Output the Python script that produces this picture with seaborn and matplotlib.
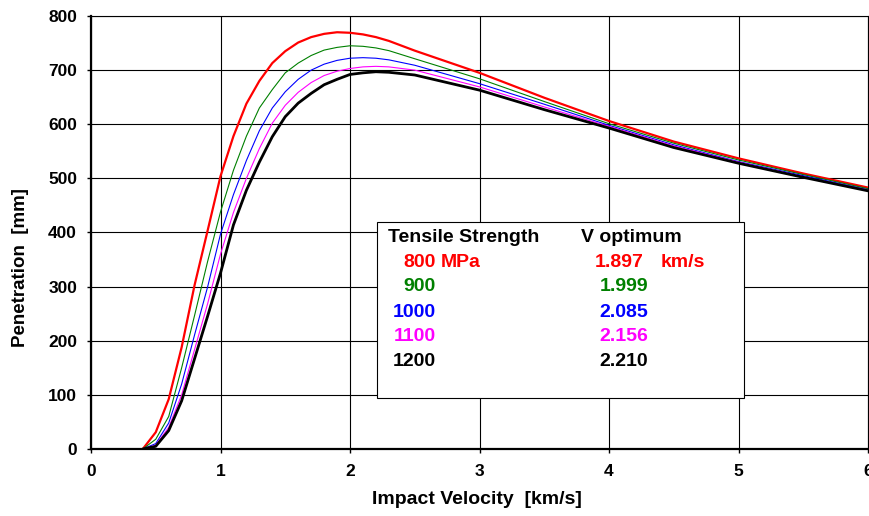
import matplotlib
matplotlib.use("Agg")
import pandas as pd
import seaborn as sns
import matplotlib.pyplot as plt
from matplotlib.patches import Rectangle

# impact velocity [km/s], shared by all curves
velocity = [0.4, 0.5, 0.6, 0.7, 0.8, 0.9, 1.0, 1.1, 1.2, 1.3, 1.4, 1.5, 1.6, 1.7,
            1.8, 1.9, 2.0, 2.1, 2.2, 2.3, 2.5, 3.0, 3.5, 4.0, 4.5, 5.0, 5.5, 6.0]

# penetration [mm] for each tensile strength
pen_800 = [0, 31, 92, 188, 303, 403, 504, 578, 638, 680, 713, 735, 751, 761,
           767, 770, 769, 766, 761, 754, 736, 695, 649, 606, 568, 537, 509, 483]
pen_900 = [0, 18, 60, 150, 247, 346, 438, 515, 578, 630, 664, 695, 713, 727,
           737, 742, 745, 744, 741, 736, 721, 684, 642, 601, 565, 534, 507, 481]
pen_1000 = [0, 10, 48, 120, 211, 299, 397, 470, 533, 588, 630, 660, 683, 700,
            711, 718, 722, 723, 722, 719, 709, 675, 637, 598, 562, 531, 505, 479]
pen_1100 = [0, 7, 40, 100, 184, 268, 360, 437, 500, 555, 602, 635, 659, 677,
            690, 698, 703, 706, 707, 706, 700, 669, 632, 596, 560, 530, 503, 478]
pen_1200 = [0, 5, 34, 89, 167, 245, 325, 414, 478, 530, 577, 614, 639, 657,
            673, 683, 692, 695, 697, 696, 691, 663, 627, 593, 557, 528, 502, 477]

strengths = [800, 900, 1000, 1100, 1200]
v_optimum = [1.897, 1.999, 2.085, 2.156, 2.210]
colors = ["#ff0000", "#008000", "#0000ff", "#ff00ff", "#000000"]
widths = [1.6, 0.8, 0.8, 0.8, 2.0]

curves = [pen_800, pen_900, pen_1000, pen_1100, pen_1200]
df = pd.concat(
    [pd.DataFrame({"velocity": velocity, "penetration": p, "strength": s})
     for p, s in zip(curves, strengths)],
    ignore_index=True,
)

sns.set_theme(style="whitegrid")
plt.rcParams["font.family"] = ["Liberation Sans", "DejaVu Sans"]
plt.rcParams["font.weight"] = "bold"

fig = plt.figure(figsize=(8.7, 5.16), dpi=100)
fig.patch.set_facecolor("white")
ax = fig.add_axes([91 / 870, 67 / 516, 777 / 870, 433 / 516])
ax.set_facecolor("white")

for s, c, w in zip(strengths, colors, widths):
    sns.lineplot(data=df[df["strength"] == s], x="velocity", y="penetration",
                 color=c, linewidth=w, ax=ax, legend=False, zorder=3)

ax.set_xlim(0, 6)
ax.set_ylim(0, 800)
ax.set_xticks(range(0, 7))
ax.set_yticks(range(0, 801, 100))
ax.grid(True, color="black", linewidth=0.8)
ax.tick_params(axis="both", direction="out", length=3, width=1, color="black",
               labelsize=12.5, labelcolor="black")
ax.tick_params(axis="x", pad=8)
ax.tick_params(axis="y", pad=7)
ax.tick_params(left=True, bottom=True)
for lab in ax.get_xticklabels() + ax.get_yticklabels():
    lab.set_fontweight("bold")

for side in ["top", "right"]:
    ax.spines[side].set_color("black")
    ax.spines[side].set_linewidth(0.8)
for side in ["left", "bottom"]:
    ax.spines[side].set_color("black")
    ax.spines[side].set_linewidth(1.6)

ax.set_xlabel("Impact Velocity  [km/s]", fontsize=14, fontweight="bold", color="black")
ax.set_ylabel("Penetration  [mm]", fontsize=13.5, fontweight="bold", color="black")
ax.xaxis.set_label_coords(0.497, -0.097)
ax.yaxis.set_label_coords(-0.08, 0.42)

# annotation box with the optimum velocities
box = Rectangle((0.3687, 0.1178), 0.4711, 0.4058, transform=ax.transAxes,
                facecolor="white", edgecolor="black", linewidth=0.8, zorder=5)
ax.add_patch(box)

txt = dict(transform=ax.transAxes, fontsize=14, fontweight="bold", va="center", zorder=6)
ax.text(0.3826, 0.488, "Tensile Strength", color="black", **txt)
ax.text(0.6302, 0.488, "V optimum", color="black", **txt)
rows_y = [0.4312, 0.3748, 0.3157, 0.2594, 0.2016]
for i, (s, v, c, y) in enumerate(zip(strengths, v_optimum, colors, rows_y)):
    ax.text(0.4434, y, f"{s}", color=c, ha="right", **txt)
    if i == 0:
        ax.text(0.4505, y, "MPa", color=c, ha="left", **txt)
        ax.text(0.6486, y, f"{v:.3f}", color=c, ha="left", **txt)
        ax.text(0.7336, y, "km/s", color=c, ha="left", **txt)
    else:
        ax.text(0.6544, y, f"{v:.3f}", color=c, ha="left", **txt)

fig.savefig("out.png", dpi=100, facecolor="white")
